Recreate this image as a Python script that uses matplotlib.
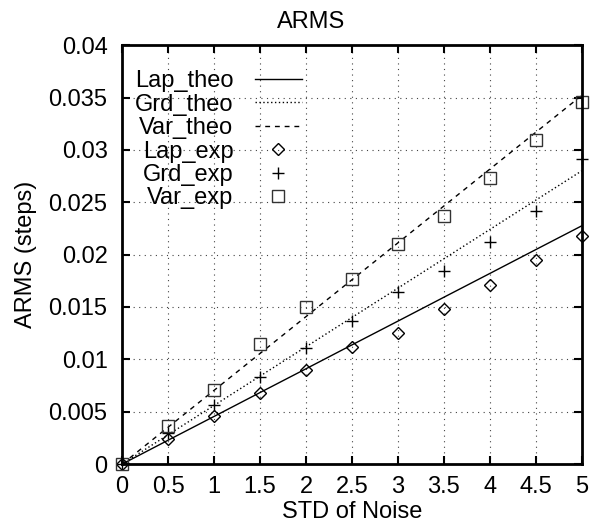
import matplotlib
matplotlib.use("Agg")
import matplotlib.pyplot as plt

plt.rcParams['font.family'] = ['Liberation Sans', 'DejaVu Sans']

noise = [0, 0.5, 1, 1.5, 2, 2.5, 3, 3.5, 4, 4.5, 5]

lap_theo = [0, 0.00228, 0.00455, 0.00683, 0.0091, 0.01138, 0.01365, 0.01593, 0.0182, 0.02048, 0.02275]
grd_theo = [0, 0.0028, 0.0056, 0.0084, 0.0112, 0.014, 0.0168, 0.0196, 0.0224, 0.0252, 0.028]
var_theo = [0, 0.00352, 0.00704, 0.01056, 0.01408, 0.0176, 0.02112, 0.02464, 0.02816, 0.03168, 0.0352]

lap_exp = [0, 0.0024, 0.0046, 0.0068, 0.0090, 0.0112, 0.0125, 0.0148, 0.0171, 0.0195, 0.0218]
grd_exp = [0, 0.0030, 0.0056, 0.0083, 0.0111, 0.0137, 0.0164, 0.0184, 0.0212, 0.0242, 0.0291]
var_exp = [0, 0.0036, 0.0071, 0.0115, 0.0150, 0.0177, 0.0210, 0.0237, 0.0273, 0.0309, 0.0346]

xticks = [0, 0.5, 1, 1.5, 2, 2.5, 3, 3.5, 4, 4.5, 5]
yticks = [0, 0.005, 0.01, 0.015, 0.02, 0.025, 0.03, 0.035, 0.04]

fs = 17

fig = plt.figure(figsize=(5.9, 5.25), dpi=100)
ax = fig.add_axes([0.207, 0.116, 0.779, 0.798])

ax.plot(noise, lap_theo, color='black', linestyle='-', linewidth=1, label='Lap_theo')
ax.plot(noise, grd_theo, color='black', linestyle=(0, (1, 1.8)), linewidth=1, label='Grd_theo')
ax.plot(noise, var_theo, color='black', linestyle=(0, (3.5, 3.5)), linewidth=1, label='Var_theo')
ax.plot(noise, lap_exp, linestyle='none', marker='D', markersize=6, markerfacecolor='none',
        markeredgecolor='black', markeredgewidth=1, label='Lap_exp', clip_on=False)
ax.plot(noise, grd_exp, linestyle='none', marker='+', markersize=9, color='black',
        markeredgewidth=1, label='Grd_exp', clip_on=False)
ax.plot(noise, var_exp, linestyle='none', marker='s', markersize=8.5, markerfacecolor='none',
        markeredgecolor='#333333', markeredgewidth=1, label='Var_exp', clip_on=False)

ax.set_xlim(0, 5)
ax.set_ylim(0, 0.04)
ax.set_xticks(xticks)
ax.set_xticklabels(['%g' % v for v in xticks])
ax.set_yticks(yticks)
ax.set_yticklabels(['%g' % v for v in yticks])
ax.tick_params(direction='in', top=True, right=True, length=6, width=1.5, labelsize=fs)
ax.tick_params(axis='x', pad=8.5)
ax.tick_params(axis='y', pad=10.5)
ax.grid(True, color='#444444', linestyle=(0, (1, 4)), linewidth=0.8)
for s in ax.spines.values():
    s.set_linewidth(2)

fig.text(0.527, 0.958, 'ARMS', fontsize=fs, ha='center', va='center')
ax.set_xlabel('STD of Noise', fontsize=fs, labelpad=2)
ax.set_ylabel('ARMS (steps)', fontsize=fs, labelpad=8)

leg = ax.legend(loc='upper left', bbox_to_anchor=(0.028, 0.94), markerfirst=False, frameon=False,
                fontsize=fs, handlelength=2.0, labelspacing=0.06, handletextpad=0.9,
                borderaxespad=0, borderpad=0, numpoints=1)

fig.savefig('out.png', dpi=100)
